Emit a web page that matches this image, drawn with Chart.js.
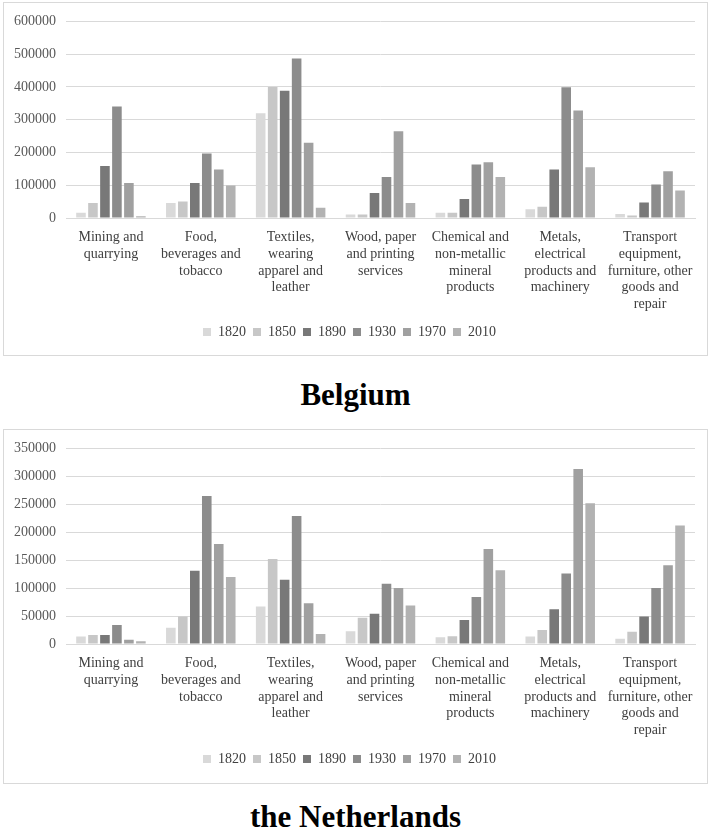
<!DOCTYPE html>
<html>
<head>
<meta charset="utf-8">
<script src="https://cdn.jsdelivr.net/npm/chart.js@4.4.1/dist/chart.umd.min.js"></script>
<style>
  html, body { margin: 0; padding: 0; background: #ffffff; }
  body { position: relative; width: 709px; height: 834px; overflow: hidden; }
  .box { position: absolute; left: 3px; width: 705px; border: 1px solid #d9d9d9; box-sizing: border-box; background: #fff; }
  #boxBE { top: 2px; height: 354px; }
  #boxNL { top: 429px; height: 355px; }
  .box canvas { display: block; }
  .title { position: absolute; left: 3px; width: 705px; text-align: center;
           font: bold 31px "Liberation Serif", "Times New Roman", serif; color: #000; line-height: 36px; }
  #titleBE { top: 377px; }
  #titleNL { top: 799px; }
</style>
</head>
<body>
<div class="box" id="boxBE"><canvas id="chartBE" width="703" height="352"></canvas></div>
<div class="title" id="titleBE">Belgium</div>
<div class="box" id="boxNL"><canvas id="chartNL" width="703" height="353"></canvas></div>
<div class="title" id="titleNL">the Netherlands</div>

<script>
// Industry groups (multi-line axis labels)
const categories = [
  ["Mining and", "quarrying"],
  ["Food,", "beverages and", "tobacco"],
  ["Textiles,", "wearing", "apparel and", "leather"],
  ["Wood, paper", "and printing", "services"],
  ["Chemical and", "non-metallic", "mineral", "products"],
  ["Metals,", "electrical", "products and", "machinery"],
  ["Transport", "equipment,", "furniture, other", "goods and", "repair"]
];

const years = ["1820", "1850", "1890", "1930", "1970", "2010"];
const yearColors = ["#d9d9d9", "#c7c7c7", "#787878", "#8c8c8c", "#a0a0a0", "#b2b2b2"];

// Belgium, per year, one value per industry group
const belgium1820 = [16000, 46000, 320000, 11000, 16000, 27000, 12000];
const belgium1850 = [46000, 50000, 400000, 11000, 16000, 34000, 8000];
const belgium1890 = [159000, 107000, 388000, 76000, 58000, 148000, 47000];
const belgium1930 = [340000, 197000, 487000, 125000, 163000, 399000, 102000];
const belgium1970 = [107000, 148000, 230000, 265000, 170000, 328000, 143000];
const belgium2010 = [5000, 99000, 31000, 46000, 125000, 155000, 84000];

// The Netherlands, per year, one value per industry group
const netherlands1820 = [13500, 29000, 67000, 23000, 12000, 13500, 9500];
const netherlands1850 = [16000, 49000, 152000, 47000, 14000, 25000, 22000];
const netherlands1890 = [16000, 131000, 115000, 54000, 43000, 62000, 49000];
const netherlands1930 = [34000, 265000, 229000, 108000, 84000, 126000, 100000];
const netherlands1970 = [7500, 179000, 73000, 100000, 170000, 313000, 141000];
const netherlands2010 = [4700, 120000, 18000, 69000, 132000, 252000, 212000];

// Value axis ranges
const belgiumAxis = { max: 600000, step: 100000 };
const netherlandsAxis = { max: 350000, step: 50000 };

const SERIF = '"Liberation Serif", "Times New Roman", serif';

function buildChart(canvasId, seriesList, axis, xAxisHeight, bottomPad) {
  const datasets = seriesList.map((values, i) => ({
    label: years[i],
    data: values,
    backgroundColor: yearColors[i],
    borderWidth: 0,
    categoryPercentage: 0.8,
    barPercentage: 0.8
  }));

  return new Chart(document.getElementById(canvasId), {
    type: 'bar',
    data: { labels: categories, datasets },
    options: {
      responsive: false,
      animation: false,
      layout: { padding: { left: 0, right: 12, top: 12, bottom: bottomPad } },
      plugins: {
        tooltip: { enabled: false },
        title: { display: false },
        legend: {
          position: 'bottom',
          align: 'center',
          labels: {
            boxWidth: 8,
            boxHeight: 8,
            padding: 7,
            color: '#404040',
            font: { family: SERIF, size: 14 }
          }
        }
      },
      scales: {
        x: {
          grid: { display: false, drawTicks: false },
          border: { display: true, color: '#d9d9d9', width: 1 },
          ticks: {
            autoSkip: false,
            maxRotation: 0,
            minRotation: 0,
            padding: 11,
            color: '#404040',
            font: { family: SERIF, size: 14 }
          },
          afterFit(scale) { scale.height = xAxisHeight; }
        },
        y: {
          min: 0,
          max: axis.max,
          grid: { color: '#d9d9d9', lineWidth: 1, drawTicks: false },
          border: { display: false },
          ticks: {
            stepSize: axis.step,
            padding: 10,
            color: '#595959',
            font: { family: SERIF, size: 14 },
            // plain integers, no thousands separators
            callback: (value) => String(value)
          },
          afterFit(scale) { scale.width = 62; }
        }
      }
    }
  });
}

buildChart('chartBE',
  [belgium1820, belgium1850, belgium1890, belgium1930, belgium1970, belgium2010],
  belgiumAxis, 100, 6);

buildChart('chartNL',
  [netherlands1820, netherlands1850, netherlands1890, netherlands1930, netherlands1970, netherlands2010],
  netherlandsAxis, 101, 7);
</script>
</body>
</html>
